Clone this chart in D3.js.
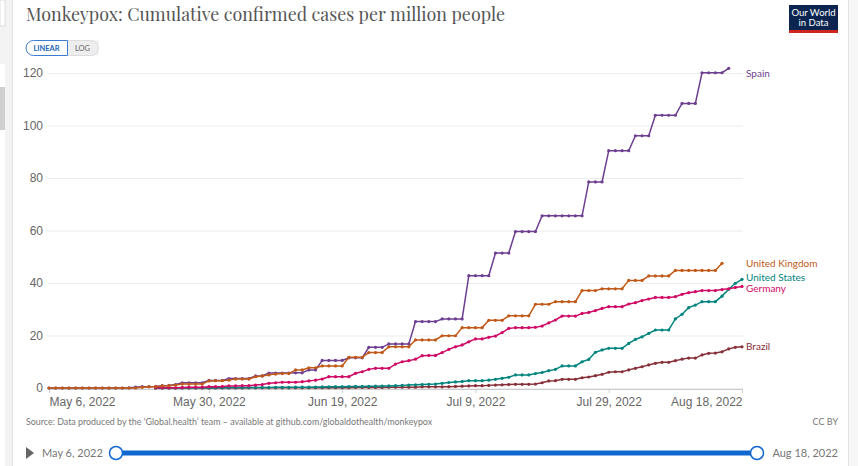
<!DOCTYPE html>
<html>
<head>
<meta charset="utf-8">
<script src="https://cdn.jsdelivr.net/npm/d3@7"></script>
<style>
  body { margin: 0; background: #fff; }
  svg { display: block; font-family: Lato, "Noto Sans", sans-serif; }
</style>
</head>
<body>
<div class="chartWrap"></div>
<script>
var width = 858,
  height = 466,
  chartLeft = 49,
  chartRight = 742,
  chartTop = 73,
  chartBottom = 388;

// dates shown on the axis and the slider
var startDate = '2022-05-06',
  endDate = '2022-08-18',
  xTickDates = ['2022-05-06', '2022-05-30', '2022-06-19', '2022-07-09', '2022-07-29', '2022-08-18'],
  yTicks = [0, 20, 40, 60, 80, 100, 120];

// series, in drawing order (last on top)
var seriesNames = ['Brazil', 'United States', 'Germany', 'Spain', 'United Kingdom'],
  seriesColors = ['#883039', '#00847E', '#CF0A66', '#6D3E91', '#C05917'],
  seriesStart = ['2022-05-22', '2022-05-22', '2022-05-22', '2022-05-06', '2022-05-06'];

// cumulative confirmed cases per million, one value per day from the series start
var brazilValues = [
  0, 0, 0, 0, 0, 0, 0, 0, 0, 0, 0, 0, 0, 0,
  0.05, 0.05, 0.05, 0.05, 0.05, 0.05, 0.05, 0.05, 0.05, 0.05,
  0.1, 0.1, 0.1, 0.1, 0.1, 0.1,
  0.2, 0.2, 0.2, 0.2, 0.2,
  0.3, 0.3, 0.3, 0.3, 0.3,
  0.45, 0.45, 0.45, 0.45,
  0.5, 0.6, 0.7, 0.8, 0.9, 0.9, 1.0, 1.1, 1.2, 1.3, 1.4, 1.4, 1.4, 1.5, 2.0,
  2.7, 2.8, 3.3, 3.3, 3.3, 3.9, 4.2, 4.7, 5.2, 6.0, 6.2, 6.2, 6.9, 7.5, 8.1,
  8.8, 9.4, 9.8, 9.8, 10.4, 11.0, 11.4, 11.4, 12.6, 13.2, 13.3, 13.8, 14.9, 15.5, 15.7
];

var usValues = [
  0, 0, 0, 0,
  0.05, 0.05, 0.05,
  0.1, 0.1, 0.1, 0.1,
  0.15, 0.15, 0.15,
  0.2, 0.2, 0.2, 0.2,
  0.25, 0.25, 0.25,
  0.3, 0.3, 0.3,
  0.35, 0.4, 0.45, 0.5, 0.5, 0.55, 0.6, 0.6, 0.65, 0.7, 0.75, 0.8, 0.9, 1.0, 1.1, 1.2, 1.3,
  1.4, 1.5, 1.8, 2.1, 2.3, 2.5, 2.8, 2.8, 2.8, 3.0, 3.3, 3.7, 4.1, 5.0, 5.0, 5.0, 5.5,
  5.9, 6.6, 7.1, 8.4, 8.4, 8.4, 10.0, 10.9, 13.6, 14.5, 15.1, 15.1, 15.1, 17.0, 18.5,
  19.5, 20.8, 22.1, 22.1, 22.1, 26.3, 28.1, 30.6, 31.6, 32.9, 32.9, 32.9, 35.0, 37.6, 39.9, 41.4
];

var germanyValues = [
  0.1, 0.1, 0.1, 0.1, 0.2, 0.3, 0.3, 0.3, 0.5, 0.5, 0.6, 0.8, 0.8, 0.9, 0.9,
  1.1, 1.3, 1.8, 2.0, 2.2, 2.2, 2.2, 2.4, 2.7, 3.0, 3.4, 4.3, 4.3, 4.3, 4.3,
  5.6, 6.2, 7.1, 7.5, 7.5, 7.5, 9.1, 10.0, 10.4, 11.0, 12.3, 12.4, 12.4, 13.5,
  14.7, 15.7, 16.4, 17.6, 18.7, 18.7, 19.3, 19.8, 21.1, 22.7, 23.0, 23.0, 23.0, 23.1,
  23.6, 24.8, 25.9, 27.4, 27.4, 27.4, 28.4, 28.8, 29.5, 30.3, 31.0, 31.0, 31.0, 32.0,
  32.5, 33.3, 33.9, 34.5, 34.5, 34.5, 34.8, 35.7, 36.3, 36.7, 37.1, 37.1, 37.1, 37.5,
  37.8, 38.3, 38.7
];

var spainValues = [
  0, 0, 0, 0, 0, 0, 0, 0, 0, 0, 0,
  0, 0.1, 0.3, 0.5, 0.5, 0.6, 0.9, 1.0, 1.3,
  2.0, 2.0, 2.0, 2.0,
  2.9, 2.9, 2.9,
  3.6, 3.6, 3.6, 3.6,
  4.6, 4.6,
  5.7, 5.7, 5.7, 5.7,
  5.8, 5.8,
  6.9, 6.9,
  10.5, 10.5, 10.5, 10.5,
  11.5, 11.5, 11.5,
  15.5, 15.5, 15.5,
  16.8, 16.8, 16.8, 16.8,
  25.3, 25.3, 25.3, 25.3,
  26.3, 26.3, 26.3, 26.3,
  42.8, 42.8, 42.8, 42.8,
  51.4, 51.4, 51.4,
  59.6, 59.6, 59.6, 59.6,
  65.6, 65.6, 65.6, 65.6, 65.6, 65.6, 65.6,
  78.5, 78.5, 78.5,
  90.4, 90.4, 90.4, 90.4,
  96.1, 96.1, 96.1,
  103.9, 103.9, 103.9, 103.9,
  108.4, 108.4, 108.4,
  120.1, 120.1, 120.1, 120.1,
  121.8
];

var ukValues = [
  0, 0, 0, 0, 0, 0, 0, 0, 0, 0, 0, 0, 0, 0,
  0.25, 0.5, 0.5, 0.8, 0.9, 1.1,
  1.5, 1.5, 1.5, 1.5,
  2.7, 2.8, 2.8,
  3.0, 3.4, 3.4, 3.4,
  4.3, 4.6, 5.0, 5.3, 5.5, 5.5,
  6.9, 6.9,
  7.7, 7.7,
  8.4, 8.4, 8.4, 8.4,
  11.7, 11.7, 11.7,
  13.5, 13.5, 13.5,
  15.7, 15.7, 15.7, 15.7,
  18.3, 18.3, 18.3, 18.3,
  19.9, 19.9, 19.9,
  23.0, 23.0, 23.0, 23.0,
  25.8, 25.8, 25.8,
  27.5, 27.5, 27.5, 27.5,
  31.9, 31.9, 31.9,
  32.9, 32.9, 32.9, 32.9,
  37.1, 37.1, 37.1,
  37.8, 37.8, 37.8, 37.8,
  41.0, 41.0, 41.0,
  42.7, 42.7, 42.7, 42.7,
  44.8, 44.8, 44.8, 44.8, 44.8, 44.8, 44.8,
  47.5
];

var seriesValues = [brazilValues, usValues, germanyValues, spainValues, ukValues];

var parseDate = d3.timeParse('%Y-%m-%d'),
  fmtDate = d3.timeFormat('%b %-d, %Y');

var series = seriesNames.map(function(name, i){
  var first = parseDate(seriesStart[i]);
  return {
    name: name,
    color: seriesColors[i],
    points: seriesValues[i].map(function(v, j){
      return {date: d3.timeDay.offset(first, j), value: v};
    })
  };
});

var svg = d3.select('.chartWrap')
  .append('svg')
  .attr('width', width)
  .attr('height', height);

// page chrome at the edges
svg.append('rect').attr('x', 0).attr('y', 0).attr('width', 12).attr('height', height).style('fill', '#f3f3f3');
svg.append('rect').attr('x', 0).attr('y', 0).attr('width', 5).attr('height', 26).style('fill', '#fff').style('stroke', '#ddd');
svg.append('rect').attr('x', 0).attr('y', 64).attr('width', 5).attr('height', height - 64).style('fill', '#fff');
svg.append('rect').attr('x', 0).attr('y', 87).attr('width', 5).attr('height', 43).style('fill', '#cfcfcf');
svg.append('line').attr('x1', 12.5).attr('x2', 12.5).attr('y1', 0).attr('y2', height).style('stroke', '#e2e2e2');
svg.append('rect').attr('x', 849).attr('y', 0).attr('width', 9).attr('height', height).style('fill', '#f7f7f7');
svg.append('line').attr('x1', 848.5).attr('x2', 848.5).attr('y1', 0).attr('y2', height).style('stroke', '#e2e2e2');

// title, squeezed to the reference width
var title = svg.append('text')
  .attr('x', 26)
  .attr('y', 21)
  .style('font-family', '"Playfair Display", "Liberation Serif", serif')
  .style('font-size', '21px')
  .style('fill', '#555')
  .text('Monkeypox: Cumulative confirmed cases per million people');
var tw = title.node().getComputedTextLength();
title.style('font-size', (21 * 479 / tw).toFixed(2) + 'px');

// LINEAR / LOG toggle
svg.append('path')
  .attr('d', 'M75.5,40.5 H98.5 V55.5 H75.5 Z')
  .style('fill', '#f0f0f0');
svg.append('path')
  .attr('d', 'M67.5,40.5 H91 A7.5,7.5 0 0 1 91,55.5 H67.5 Z')
  .style('fill', '#eeeeee')
  .style('stroke', '#dddddd');
svg.append('path')
  .attr('d', 'M33.5,40.5 H67.5 V55.5 H33.5 A7.5,7.5 0 0 1 33.5,40.5 Z')
  .style('fill', '#fff')
  .style('stroke', '#3b7bd0');
svg.append('text').attr('x', 46.5).attr('y', 51).attr('text-anchor', 'middle')
  .style('font-size', '7.5px').style('font-weight', 'bold').style('fill', '#2566b8').text('LINEAR');
svg.append('text').attr('x', 82.5).attr('y', 51).attr('text-anchor', 'middle')
  .style('font-size', '7.5px').style('fill', '#666').text('LOG');

// logo
var logo = svg.append('g').attr('transform', 'translate(789,5)');
logo.append('rect').attr('width', 49).attr('height', 28).style('fill', '#0b2450');
logo.append('rect').attr('y', 25).attr('width', 49).attr('height', 3).style('fill', '#ce261e');
logo.append('text').attr('x', 24.5).attr('y', 11).attr('text-anchor', 'middle')
  .style('font-size', '9.5px').style('fill', '#fff').text('Our World');
logo.append('text').attr('x', 24.5).attr('y', 21).attr('text-anchor', 'middle')
  .style('font-size', '9.5px').style('fill', '#fff').text('in Data');

// scales
var x = d3.scaleTime()
  .domain([parseDate(startDate), parseDate(endDate)])
  .range([chartLeft, chartRight]);
var y = d3.scaleLinear()
  .domain([0, 120])
  .range([chartBottom, chartTop]);

// y grid + labels
var yAxis = d3.axisLeft(y)
  .tickValues(yTicks)
  .tickSize(-(chartRight - chartLeft + 2))
  .tickPadding(5)
  .tickFormat(d3.format('d'));
var yG = svg.append('g')
  .attr('transform', 'translate(' + (chartLeft - 1) + ',0)')
  .call(yAxis);
yG.select('.domain').remove();
yG.selectAll('line').style('stroke', '#ececec');
yG.selectAll('text').style('font-size', '12px').style('fill', '#666').attr('font-family', null);

// x axis
var xAxis = d3.axisBottom(x)
  .tickValues(xTickDates.map(parseDate))
  .tickSize(4)
  .tickPadding(4)
  .tickFormat(fmtDate);
var xG = svg.append('g')
  .attr('transform', 'translate(0,' + (chartBottom + 1) + ')')
  .call(xAxis);
xG.select('.domain').attr('d', 'M' + chartLeft + ',0.5H' + chartRight).style('stroke', '#ccc');
xG.selectAll('line').style('stroke', '#ccc');
xG.selectAll('text')
  .style('font-size', '12px')
  .style('fill', '#666')
  .attr('font-family', null)
  .attr('text-anchor', function(d, i){
    return i === 0 ? 'start' : (i === xTickDates.length - 1 ? 'end' : 'middle');
  });

// lines + dots
var line = d3.line()
  .x(function(d){ return x(d.date); })
  .y(function(d){ return y(d.value); });

var seriesG = svg.selectAll('.series')
  .data(series)
  .enter()
    .append('g')
    .attr('class', 'series');

seriesG.append('path')
  .attr('d', function(d){ return line(d.points); })
  .style('fill', 'none')
  .style('stroke', function(d){ return d.color; })
  .style('stroke-width', 1.5);

seriesG.selectAll('circle')
  .data(function(d){ return d.points.map(function(p){ return {p: p, color: d.color}; }); })
  .enter()
    .append('circle')
    .attr('cx', function(d){ return x(d.p.date); })
    .attr('cy', function(d){ return y(d.p.value); })
    .attr('r', 1.6)
    .style('fill', function(d){ return d.color; });

// end labels, kept inside the plot and spread apart when they collide
var labels = series.map(function(s){
  var last = s.points[s.points.length - 1];
  return {name: s.name, color: s.color, y: Math.max(chartTop, y(last.value))};
});
labels.sort(function(a, b){ return a.y - b.y; });
for (var it = 0; it < 30; it++) {
  for (var k = 1; k < labels.length; k++) {
    var gap = labels[k].y - labels[k - 1].y;
    if (gap < 11) {
      labels[k].y += (11 - gap) / 2;
      labels[k - 1].y -= (11 - gap) / 2;
    }
  }
}
svg.selectAll('.lineLabel')
  .data(labels)
  .enter()
    .append('text')
    .attr('class', 'lineLabel')
    .attr('x', 746)
    .attr('y', function(d){ return d.y; })
    .attr('dy', '0.35em')
    .style('font-size', '10px')
    .style('fill', function(d){ return d.color; })
    .text(function(d){ return d.name; });

// footer
svg.append('text').attr('x', 26).attr('y', 425)
  .style('font-size', '8.9px').style('fill', '#777')
  .text('Source: Data produced by the \u2018Global.health\u2019 team \u2013 available at github.com/globaldothealth/monkeypox');
svg.append('text').attr('x', 838).attr('y', 425).attr('text-anchor', 'end')
  .style('font-size', '9px').style('fill', '#777').text('CC BY');

// timeline slider
svg.append('path').attr('d', 'M26,447 L34,453 L26,459 Z').style('fill', '#666');
svg.append('text').attr('x', 42).attr('y', 457)
  .style('font-size', '11px').style('fill', '#777').text(fmtDate(parseDate(startDate)));
svg.append('text').attr('x', 838).attr('y', 457).attr('text-anchor', 'end')
  .style('font-size', '11px').style('fill', '#777').text(fmtDate(parseDate(endDate)));
svg.append('line').attr('x1', 116).attr('x2', 757).attr('y1', 453).attr('y2', 453)
  .style('stroke', '#1167d0').style('stroke-width', 5);
svg.selectAll('.handle')
  .data([116, 757])
  .enter()
    .append('circle')
    .attr('class', 'handle')
    .attr('cx', function(d){ return d; })
    .attr('cy', 453)
    .attr('r', 6.5)
    .style('fill', '#fff')
    .style('stroke', '#1167d0')
    .style('stroke-width', 1.5);
</script>
</body>
</html>
